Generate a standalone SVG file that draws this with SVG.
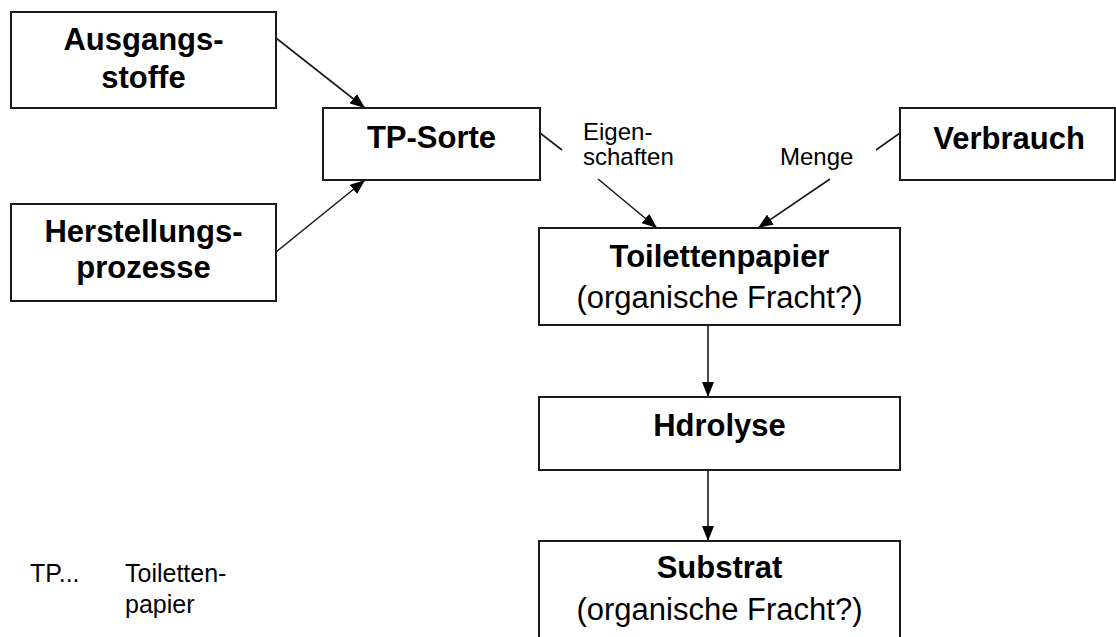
<svg xmlns="http://www.w3.org/2000/svg" width="1116" height="637" viewBox="0 0 1116 637">
  <style>
    .box { fill: #ffffff; stroke: #1a1a1a; stroke-width: 2; }
    .t { font-family: "Liberation Sans", Arial, sans-serif; fill: #000; }
    .b { font-weight: bold; font-size: 31px; text-anchor: middle; }
    .r { font-size: 31px; text-anchor: middle; }
    .lbl { font-size: 24px; }
    .leg { font-size: 25px; }
    .conn { stroke: #1a1a1a; stroke-width: 1.6; fill: none; }
  </style>
  <defs>
    <marker id="arrow" markerUnits="userSpaceOnUse" markerWidth="16" markerHeight="12" refX="15" refY="6" orient="auto">
      <path d="M0,0 L15,6 L0,12 z" fill="#000"/>
    </marker>
  </defs>
  <rect width="1116" height="637" fill="#ffffff"/>

  <!-- connectors -->
  <g id="connectors">
    <line class="conn" x1="276" y1="38" x2="365" y2="108" marker-end="url(#arrow)"/>
    <line class="conn" x1="276" y1="252" x2="365" y2="180" marker-end="url(#arrow)"/>
    <!-- TP-Sorte to Toilettenpapier, interrupted by its label -->
    <line class="conn" x1="540" y1="133" x2="562" y2="150"/>
    <line class="conn" x1="598" y1="179" x2="657" y2="228" marker-end="url(#arrow)"/>
    <!-- Verbrauch to Toilettenpapier, interrupted by its label -->
    <line class="conn" x1="900" y1="133" x2="876" y2="150"/>
    <line class="conn" x1="830" y1="179" x2="758" y2="228" marker-end="url(#arrow)"/>
    <line class="conn" x1="708" y1="325" x2="708" y2="397" marker-end="url(#arrow)"/>
    <line class="conn" x1="708" y1="470" x2="708" y2="541" marker-end="url(#arrow)"/>
    <text class="t lbl" x="583" y="140">Eigen-</text>
    <text class="t lbl" x="583" y="165">schaften</text>
    <text class="t lbl" x="780" y="165">Menge</text>
  </g>

  <g id="ausgangsstoffe">
    <rect class="box" x="11" y="12" width="265" height="96"/>
    <text class="t b" x="143.5" y="50">Ausgangs-</text>
    <text class="t b" x="143.5" y="88">stoffe</text>
  </g>

  <g id="herstellungsprozesse">
    <rect class="box" x="11" y="204" width="265" height="97"/>
    <text class="t b" x="143.5" y="242">Herstellungs-</text>
    <text class="t b" x="143.5" y="278">prozesse</text>
  </g>

  <g id="tp-sorte">
    <rect class="box" x="323" y="108" width="217" height="72"/>
    <text class="t b" x="431.5" y="148">TP-Sorte</text>
  </g>

  <g id="verbrauch">
    <rect class="box" x="900" y="108" width="215" height="72"/>
    <text class="t b" x="1009" y="149">Verbrauch</text>
  </g>

  <g id="toilettenpapier">
    <rect class="box" x="539" y="228" width="361" height="97"/>
    <text class="t b" x="719.5" y="267">Toilettenpapier</text>
    <text class="t r" x="719.5" y="308">(organische Fracht?)</text>
  </g>

  <g id="hydrolyse">
    <rect class="box" x="539" y="397" width="361" height="73"/>
    <text class="t b" x="719.5" y="436">Hdrolyse</text>
  </g>

  <g id="substrat">
    <rect class="box" x="539" y="541" width="361" height="97"/>
    <text class="t b" x="719.5" y="578">Substrat</text>
    <text class="t r" x="719.5" y="620">(organische Fracht?)</text>
  </g>

  <g id="legende">
    <text class="t leg" x="30" y="582">TP...</text>
    <text class="t leg" x="125" y="582">Toiletten-</text>
    <text class="t leg" x="125" y="613">papier</text>
  </g>
</svg>
